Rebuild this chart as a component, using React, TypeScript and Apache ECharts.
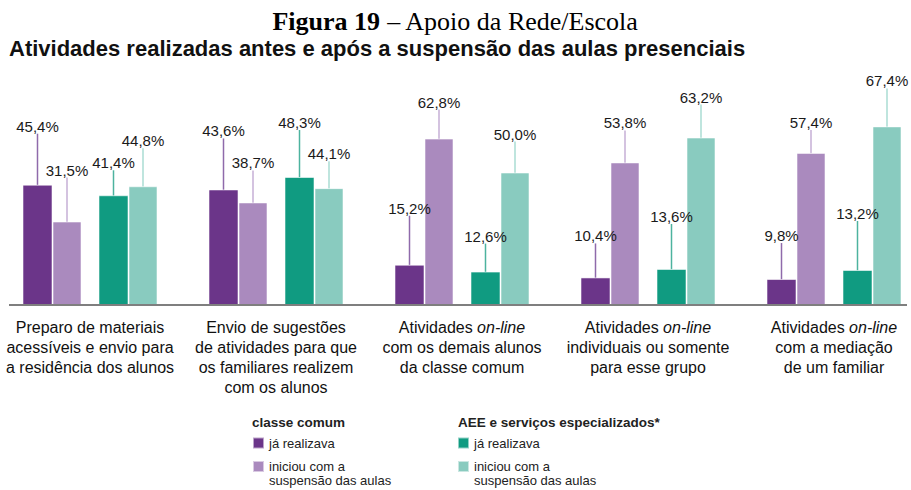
import React, { useEffect, useRef } from "react";
import * as echarts from "echarts";

const categories = [
  "Preparo de materiais\nacessíveis e envio para\na residência dos alunos",
  "Envio de sugestões\nde atividades para que\nos familiares realizem\ncom os alunos",
  "Atividades on-line\ncom os demais alunos\nda classe comum",
  "Atividades on-line\nindividuais ou somente\npara esse grupo",
  "Atividades on-line\ncom a mediação\nde um familiar",
];

const classeJa = [45.4, 43.6, 15.2, 10.4, 9.8];
const classeIniciou = [31.5, 38.7, 62.8, 53.8, 57.4];
const aeeJa = [41.4, 48.3, 12.6, 13.6, 13.2];
const aeeIniciou = [44.8, 44.1, 50.0, 63.2, 67.4];

// leader-line gaps (px) between bar top and its label
const gapClasseJa = [51, 51, 49, 34, 36];
const gapClasseIniciou = [44, 32, 29, 32, 23];
const gapAeeJa = [25, 47, 28, 45, 49];
const gapAeeIniciou = [38, 27, 31, 33, 38];

const SANS = "Liberation Sans, Arial, sans-serif";
const SERIF = "Liberation Serif, Times New Roman, serif";

const N_CC_JA = "classe comum – já realizava";
const N_CC_INI = "classe comum – iniciou com a suspensão das aulas";
const N_AEE_JA = "AEE e serviços especializados – já realizava";
const N_AEE_INI = "AEE e serviços especializados – iniciou com a suspensão das aulas";

const legendText: Record<string, string> = {
  [N_CC_JA]: "já realizava",
  [N_CC_INI]: "\niniciou com a\nsuspensão das aulas",
  [N_AEE_JA]: "já realizava",
  [N_AEE_INI]: "\niniciou com a\nsuspensão das aulas",
};

function barSeries(
  name: string,
  data: number[],
  color: string,
  lineColor: string,
  gaps: number[],
  width: number
) {
  return {
    type: "bar",
    name,
    data,
    barWidth: width,
    barGap: "0%",
    itemStyle: { color, borderColor: "rgba(255,255,255,0.55)", borderWidth: 1 },
    label: {
      show: true,
      position: "top",
      distance: 5,
      formatter: (p: any) => Number(p.value).toFixed(1).replace(".", ",") + "%",
      fontSize: 15,
      color: "#1a1a1a",
      fontFamily: SANS,
    },
    labelLine: { show: true, lineStyle: { color: lineColor, width: 1.5 } },
    labelLayout: (p: any) => ({ dy: -(gaps[p.dataIndex] - 5) }),
  };
}

export default function App() {
  const ref = useRef<HTMLDivElement>(null);
  useEffect(() => {
    document.body.style.margin = "0";
    const chart = echarts.init(ref.current!, null, { renderer: "svg" });
    const legendCommon = {
      orient: "vertical",
      itemWidth: 11,
      itemHeight: 11,
      icon: "rect",
      padding: 0,
      itemGap: 0,
      selectedMode: false,
      formatter: (n: string) => legendText[n] || n,
      textStyle: { fontSize: 13, color: "#222", lineHeight: 14, fontFamily: SANS },
    };
    chart.setOption({
      animation: false,
      backgroundColor: "#ffffff",
      title: [
        {
          text: "{b|Figura 19} {n|– Apoio da Rede/Escola}",
          left: "center",
          top: 8,
          padding: 0,
          textStyle: {
            fontFamily: SERIF,
            fontSize: 26,
            color: "#000",
            rich: {
              b: { fontFamily: SERIF, fontWeight: "bold", fontSize: 26, color: "#000" },
              n: { fontFamily: SERIF, fontWeight: "normal", fontSize: 26, color: "#000" },
            },
          },
        },
        {
          text: "Atividades realizadas antes e após a suspensão das aulas presenciais",
          left: 9,
          top: 37,
          padding: 0,
          textStyle: { fontFamily: SANS, fontSize: 22, fontWeight: "bold", color: "#111" },
        },
        {
          text: "classe comum",
          left: 252,
          top: 415,
          padding: 0,
          textStyle: { fontFamily: SANS, fontSize: 13.5, fontWeight: "bold", color: "#222" },
        },
        {
          text: "AEE e serviços especializados*",
          left: 458,
          top: 415,
          padding: 0,
          textStyle: { fontFamily: SANS, fontSize: 13.5, fontWeight: "bold", color: "#222" },
        },
      ],
      legend: [
        { ...legendCommon, data: [N_CC_JA], left: 252, top: 436 },
        { ...legendCommon, data: [N_CC_INI], left: 252, top: 445.5 },
        { ...legendCommon, data: [N_AEE_JA], left: 457, top: 436 },
        { ...legendCommon, data: [N_AEE_INI], left: 457, top: 445.5 },
      ],
      grid: {
        left: -3,
        width: 930,
        top: 119.5,
        bottom: 185,
        containLabel: false,
        outerBoundsMode: "none",
      },
      xAxis: {
        type: "category",
        data: categories,
        axisLine: { show: false },
        axisTick: { show: false },
        axisLabel: {
          interval: 0,
          margin: 12,
          fontSize: 16,
          lineHeight: 20,
          color: "#111",
          fontFamily: SANS,
          formatter: (v: string) => v.replace("on-line", "{i|on-line}"),
          rich: {
            i: { fontStyle: "italic", fontSize: 16, lineHeight: 20, color: "#111", fontFamily: SANS },
          },
        },
      },
      yAxis: { type: "value", min: 0, max: 70, show: false },
      graphic: [
        {
          type: "line",
          shape: { x1: 9, y1: 305, x2: 907, y2: 305 },
          style: { stroke: "#7f7f7f", lineWidth: 2 },
          z: 100,
        },
      ],
      series: [
        barSeries(N_CC_JA, classeJa, "#6b3589", "#8f6aab", gapClasseJa, 30),
        barSeries(N_CC_INI, classeIniciou, "#aa8abe", "#c6afd6", gapClasseIniciou, 29),
        { type: "bar", name: "", data: [], barWidth: 17, barGap: "0%", silent: true },
        barSeries(N_AEE_JA, aeeJa, "#109b81", "#4db39f", gapAeeJa, 30),
        barSeries(N_AEE_INI, aeeIniciou, "#89cbbf", "#aadcd3", gapAeeIniciou, 29),
      ],
    });
    return () => chart.dispose();
  }, []);
  return <div ref={ref} style={{ width: 911, height: 490 }} />;
}
